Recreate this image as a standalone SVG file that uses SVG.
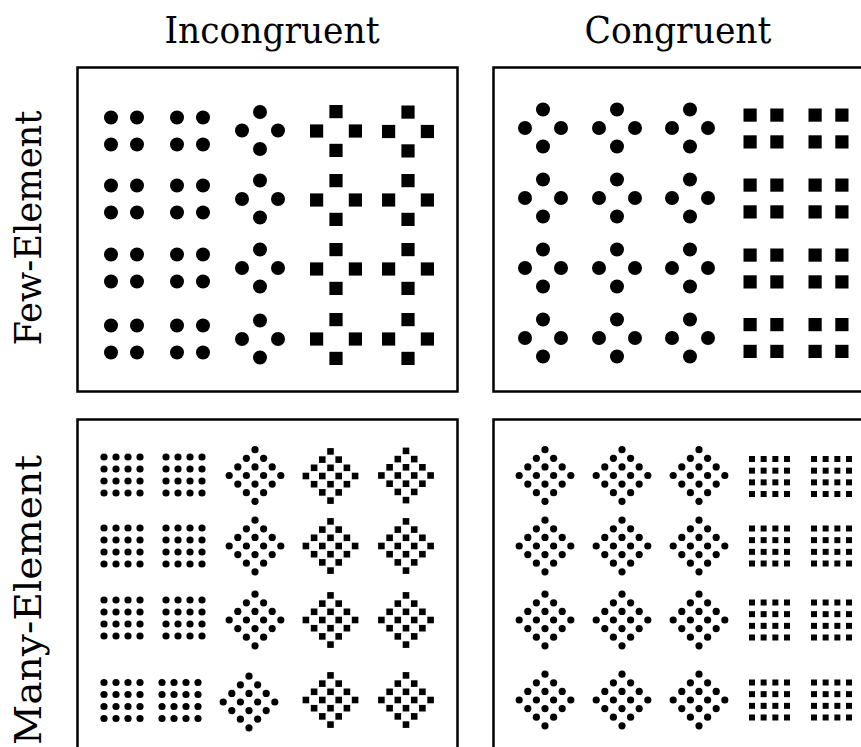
<svg xmlns="http://www.w3.org/2000/svg" xmlns:xlink="http://www.w3.org/1999/xlink" width="861" height="747" viewBox="0 0 861 747">
<style>
.b{fill:none;stroke:#000;stroke-width:2.5}
.lbl{font-family:"DejaVu Serif","Liberation Serif",serif;font-size:37px;fill:#000}
circle,rect.d{fill:#000}
</style>
<defs>
<g id="fg"><circle cx="-13" cy="-13.5" r="7"/><circle cx="13" cy="-13.5" r="7"/><circle cx="-13" cy="13.5" r="7"/><circle cx="13" cy="13.5" r="7"/></g>
<g id="fdc"><circle cx="0" cy="-18.5" r="7"/><circle cx="-18" cy="0" r="7"/><circle cx="18" cy="0" r="7"/><circle cx="0" cy="18.5" r="7"/></g>
<g id="fds"><rect class="d" x="-6.6" y="-26" width="13.2" height="13.2"/><rect class="d" x="-26" y="-6.6" width="13.2" height="13.2"/><rect class="d" x="12.8" y="-6.6" width="13.2" height="13.2"/><rect class="d" x="-6.6" y="12.8" width="13.2" height="13.2"/></g>
<g id="fgs"><rect class="d" x="-20" y="-20" width="13.2" height="13.2"/><rect class="d" x="6.8" y="-20" width="13.2" height="13.2"/><rect class="d" x="-20" y="6.8" width="13.2" height="13.2"/><rect class="d" x="6.8" y="6.8" width="13.2" height="13.2"/></g>
<g id="mgc">
<circle cx="-18" cy="-18" r="3.6"/><circle cx="-6" cy="-18" r="3.6"/><circle cx="6" cy="-18" r="3.6"/><circle cx="18" cy="-18" r="3.6"/>
<circle cx="-18" cy="-6" r="3.6"/><circle cx="-6" cy="-6" r="3.6"/><circle cx="6" cy="-6" r="3.6"/><circle cx="18" cy="-6" r="3.6"/>
<circle cx="-18" cy="6" r="3.6"/><circle cx="-6" cy="6" r="3.6"/><circle cx="6" cy="6" r="3.6"/><circle cx="18" cy="6" r="3.6"/>
<circle cx="-18" cy="18" r="3.6"/><circle cx="-6" cy="18" r="3.6"/><circle cx="6" cy="18" r="3.6"/><circle cx="18" cy="18" r="3.6"/>
</g>
<g id="mdc">
<circle cx="0" cy="-25.8" r="3.6"/>
<circle cx="-8.6" cy="-17.2" r="3.6"/><circle cx="8.6" cy="-17.2" r="3.6"/>
<circle cx="-17.2" cy="-8.6" r="3.6"/><circle cx="0" cy="-8.6" r="3.6"/><circle cx="17.2" cy="-8.6" r="3.6"/>
<circle cx="-25.8" cy="0" r="3.6"/><circle cx="-8.6" cy="0" r="3.6"/><circle cx="8.6" cy="0" r="3.6"/><circle cx="25.8" cy="0" r="3.6"/>
<circle cx="-17.2" cy="8.6" r="3.6"/><circle cx="0" cy="8.6" r="3.6"/><circle cx="17.2" cy="8.6" r="3.6"/>
<circle cx="-8.6" cy="17.2" r="3.6"/><circle cx="8.6" cy="17.2" r="3.6"/>
<circle cx="0" cy="25.8" r="3.6"/>
</g>
<g id="mds">
<rect class="d" x="-3.3" y="-27.9" width="6.6" height="6.6"/>
<rect class="d" x="-11.5" y="-19.7" width="6.6" height="6.6"/><rect class="d" x="4.9" y="-19.7" width="6.6" height="6.6"/>
<rect class="d" x="-19.7" y="-11.5" width="6.6" height="6.6"/><rect class="d" x="-3.3" y="-11.5" width="6.6" height="6.6"/><rect class="d" x="13.1" y="-11.5" width="6.6" height="6.6"/>
<rect class="d" x="-27.9" y="-3.3" width="6.6" height="6.6"/><rect class="d" x="-11.5" y="-3.3" width="6.6" height="6.6"/><rect class="d" x="4.9" y="-3.3" width="6.6" height="6.6"/><rect class="d" x="21.3" y="-3.3" width="6.6" height="6.6"/>
<rect class="d" x="-19.7" y="4.9" width="6.6" height="6.6"/><rect class="d" x="-3.3" y="4.9" width="6.6" height="6.6"/><rect class="d" x="13.1" y="4.9" width="6.6" height="6.6"/>
<rect class="d" x="-11.5" y="13.1" width="6.6" height="6.6"/><rect class="d" x="4.9" y="13.1" width="6.6" height="6.6"/>
<rect class="d" x="-3.3" y="21.3" width="6.6" height="6.6"/>
</g>
<g id="mgs">
<rect class="d" x="-20.5" y="-20.5" width="6" height="6"/><rect class="d" x="-8.85" y="-20.5" width="6" height="6"/><rect class="d" x="2.85" y="-20.5" width="6" height="6"/><rect class="d" x="14.5" y="-20.5" width="6" height="6"/>
<rect class="d" x="-20.5" y="-8.85" width="6" height="6"/><rect class="d" x="-8.85" y="-8.85" width="6" height="6"/><rect class="d" x="2.85" y="-8.85" width="6" height="6"/><rect class="d" x="14.5" y="-8.85" width="6" height="6"/>
<rect class="d" x="-20.5" y="2.85" width="6" height="6"/><rect class="d" x="-8.85" y="2.85" width="6" height="6"/><rect class="d" x="2.85" y="2.85" width="6" height="6"/><rect class="d" x="14.5" y="2.85" width="6" height="6"/>
<rect class="d" x="-20.5" y="14.5" width="6" height="6"/><rect class="d" x="-8.85" y="14.5" width="6" height="6"/><rect class="d" x="2.85" y="14.5" width="6" height="6"/><rect class="d" x="14.5" y="14.5" width="6" height="6"/>
</g>
</defs>
<rect width="861" height="747" fill="#fff"/>

<g id="labels">
<text class="lbl" x="272" y="43" text-anchor="middle" textLength="215" lengthAdjust="spacingAndGlyphs">Incongruent</text>
<text class="lbl" x="678" y="43" text-anchor="middle" textLength="187" lengthAdjust="spacingAndGlyphs">Congruent</text>
<text class="lbl" transform="translate(41,228) rotate(-90)" text-anchor="middle" textLength="235" lengthAdjust="spacingAndGlyphs">Few-Element</text>
<text class="lbl" transform="translate(41,600) rotate(-90)" text-anchor="middle" textLength="290" lengthAdjust="spacingAndGlyphs">Many-Element</text>
</g>

<g id="few-incongruent">
<rect class="b" x="77.5" y="67.5" width="380" height="324"/>
<use href="#fg" x="124" y="131"/><use href="#fg" x="190" y="131"/><use href="#fdc" x="260" y="130.5"/><use href="#fds" x="336" y="131"/><use href="#fds" x="408" y="131.5"/>
<use href="#fg" x="124" y="199"/><use href="#fg" x="190" y="199"/><use href="#fdc" x="260" y="199"/><use href="#fds" x="336" y="200"/><use href="#fds" x="408" y="200"/>
<use href="#fg" x="124" y="268"/><use href="#fg" x="190" y="268"/><use href="#fdc" x="260" y="268"/><use href="#fds" x="336" y="269"/><use href="#fds" x="408" y="269"/>
<use href="#fg" x="124" y="339"/><use href="#fg" x="190" y="339"/><use href="#fdc" x="260" y="339"/><use href="#fds" x="336" y="339"/><use href="#fds" x="408" y="339"/>
</g>

<g id="few-congruent">
<rect class="b" x="493.5" y="67.5" width="390" height="324"/>
<use href="#fdc" x="543" y="128"/><use href="#fdc" x="617" y="128"/><use href="#fdc" x="690" y="128"/><use href="#fgs" x="763.5" y="128.5"/><use href="#fgs" x="828.5" y="128.5"/>
<use href="#fdc" x="543" y="198"/><use href="#fdc" x="617" y="198"/><use href="#fdc" x="690" y="198"/><use href="#fgs" x="763.5" y="198.5"/><use href="#fgs" x="828.5" y="198.5"/>
<use href="#fdc" x="543" y="268"/><use href="#fdc" x="617" y="268"/><use href="#fdc" x="690" y="268"/><use href="#fgs" x="763.5" y="268.5"/><use href="#fgs" x="828.5" y="268.5"/>
<use href="#fdc" x="543" y="338"/><use href="#fdc" x="617" y="338"/><use href="#fdc" x="690" y="338"/><use href="#fgs" x="763.5" y="338"/><use href="#fgs" x="828.5" y="338"/>
</g>

<g id="many-incongruent">
<rect class="b" x="77.5" y="419.5" width="380" height="340"/>
<use href="#mgc" x="122" y="475"/><use href="#mgc" x="184" y="475"/><use href="#mdc" x="255" y="475.5"/><use href="#mds" x="330.5" y="476"/><use href="#mds" x="406" y="475.5"/>
<use href="#mgc" x="122" y="546"/><use href="#mgc" x="184" y="546"/><use href="#mdc" x="255" y="546"/><use href="#mds" x="330.5" y="546"/><use href="#mds" x="406" y="546"/>
<use href="#mgc" x="122" y="618"/><use href="#mgc" x="184" y="618"/><use href="#mdc" x="255" y="620"/><use href="#mds" x="330.5" y="620"/><use href="#mds" x="406" y="620"/>
<use href="#mgc" x="122" y="700.5"/><use href="#mgc" x="180" y="700.5"/><use href="#mdc" x="249" y="702"/><use href="#mds" x="330.5" y="700"/><use href="#mds" x="406" y="700"/>
</g>

<g id="many-congruent">
<rect class="b" x="493.5" y="419.5" width="390" height="340"/>
<use href="#mdc" x="545" y="475.5"/><use href="#mdc" x="622" y="475.5"/><use href="#mdc" x="699" y="475.5"/><use href="#mgs" x="769.5" y="476.5"/><use href="#mgs" x="831.5" y="476.5"/>
<use href="#mdc" x="545" y="546"/><use href="#mdc" x="622" y="546"/><use href="#mdc" x="699" y="546"/><use href="#mgs" x="769.5" y="546"/><use href="#mgs" x="831.5" y="546"/>
<use href="#mdc" x="545" y="620"/><use href="#mdc" x="622" y="620"/><use href="#mdc" x="699" y="620"/><use href="#mgs" x="769.5" y="620"/><use href="#mgs" x="831.5" y="620"/>
<use href="#mdc" x="545" y="700"/><use href="#mdc" x="622" y="700"/><use href="#mdc" x="699" y="700"/><use href="#mgs" x="769.5" y="700"/><use href="#mgs" x="831.5" y="700"/>
</g>
</svg>
